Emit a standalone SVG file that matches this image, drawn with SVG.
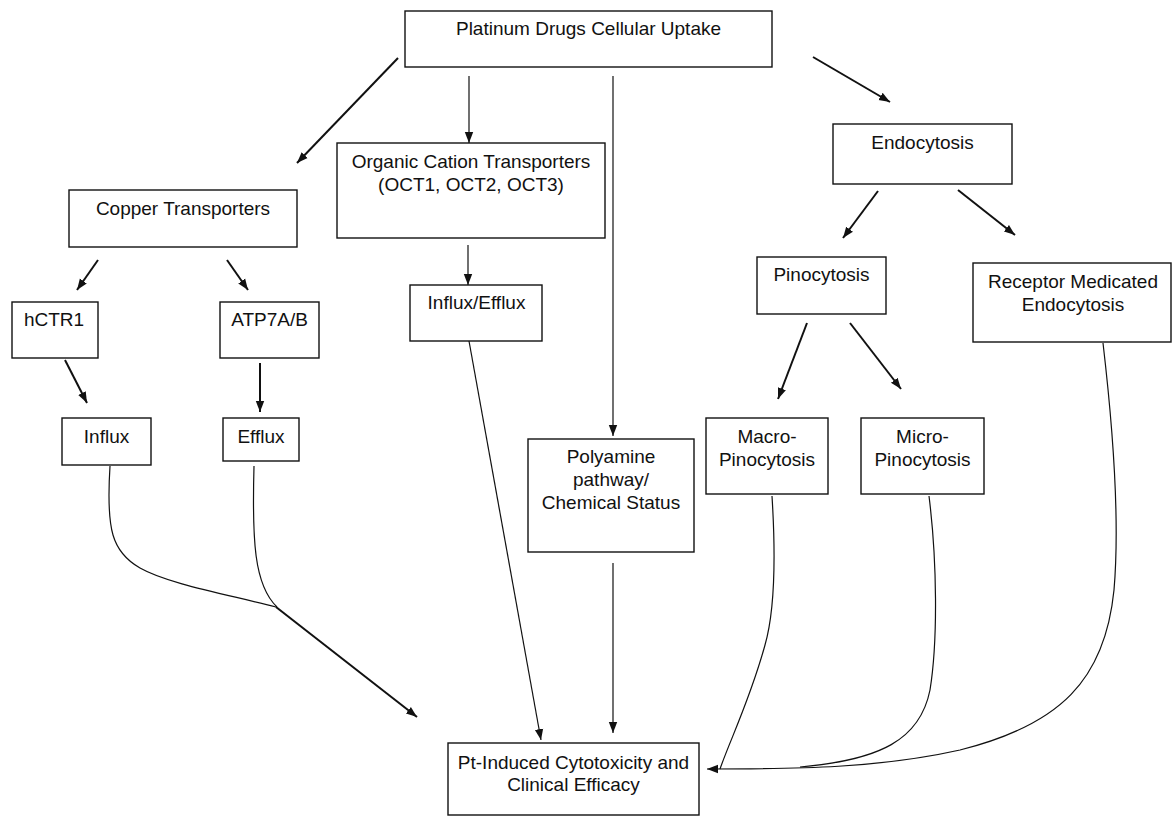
<svg xmlns="http://www.w3.org/2000/svg" width="1172" height="816" viewBox="0 0 1172 816">
<style>
  .box { fill: #ffffff; stroke: #111111; stroke-width: 1.4; }
  .lbl { font-family: "Liberation Sans", Arial, sans-serif; font-size: 19px; fill: #111111; text-anchor: middle; }
  .thick { fill: none; stroke: #111111; stroke-width: 2; }
  .thin { fill: none; stroke: #111111; stroke-width: 1.2; }
</style>
<defs>
  <marker id="ah" markerUnits="userSpaceOnUse" markerWidth="12" markerHeight="10" viewBox="0 0 12 10" refX="11" refY="5" orient="auto">
    <path d="M0,0.8 L11,5 L0,9.2 z" fill="#111111"/>
  </marker>
</defs>
<rect width="1172" height="816" fill="#ffffff"/>

<g id="connectors">
  <path class="thick" d="M398,58 L297,163" marker-end="url(#ah)"/>
  <path class="thin" d="M469,76 L469,143" marker-end="url(#ah)"/>
  <path class="thin" d="M613,76 L613,436" marker-end="url(#ah)"/>
  <path class="thick" d="M813,57 L890,102" marker-end="url(#ah)"/>
  <path class="thick" d="M98,260 L77,290" marker-end="url(#ah)"/>
  <path class="thick" d="M227,260 L248,290" marker-end="url(#ah)"/>
  <path class="thick" d="M65,360 L87,403" marker-end="url(#ah)"/>
  <path class="thick" d="M260,363 L260,412" marker-end="url(#ah)"/>
  <path class="thin" d="M468,245 L468,285" marker-end="url(#ah)"/>
  <path class="thin" d="M469,341 L541,740" marker-end="url(#ah)"/>
  <path class="thin" d="M613,563 L613,733" marker-end="url(#ah)"/>
  <path class="thick" d="M878,191 L843,238" marker-end="url(#ah)"/>
  <path class="thick" d="M958,190 L1015,235" marker-end="url(#ah)"/>
  <path class="thick" d="M807,323 L778,399" marker-end="url(#ah)"/>
  <path class="thick" d="M850,323 L901,389" marker-end="url(#ah)"/>
  <!-- left merge -->
  <path class="thin" d="M110,466 C106,530 112,552 140,568 S230,595 276,607"/>
  <path class="thin" d="M254,466 C252,540 254,585 277,607"/>
  <path class="thick" d="M276,607 L417,717" marker-end="url(#ah)"/>
  <!-- right merge -->
  <path class="thin" d="M1103,343 C1112,420 1120,520 1114,590 C1105,680 1060,725 960,750 C880,768 800,769 707,769" marker-end="url(#ah)"/>
  <path class="thin" d="M929,496 C937,560 938,640 930,690 C920,740 880,760 800,767"/>
  <path class="thin" d="M772,496 C776,560 775,610 765,645 C750,700 730,740 720,769"/>
</g>

<g id="node-uptake">
  <rect class="box" x="405" y="11" width="367" height="56"/>
  <text class="lbl" x="588.5" y="35">Platinum Drugs Cellular Uptake</text>
</g>
<g id="node-copper">
  <rect class="box" x="69" y="190" width="228" height="57"/>
  <text class="lbl" x="183" y="215">Copper Transporters</text>
</g>
<g id="node-oct">
  <rect class="box" x="337" y="143" width="268" height="95"/>
  <text class="lbl" x="471" y="168">Organic Cation Transporters</text>
  <text class="lbl" x="471" y="191">(OCT1, OCT2, OCT3)</text>
</g>
<g id="node-endocytosis">
  <rect class="box" x="833" y="124" width="179" height="60"/>
  <text class="lbl" x="922.5" y="149">Endocytosis</text>
</g>
<g id="node-hctr1">
  <rect class="box" x="12" y="302" width="86" height="56"/>
  <text class="lbl" x="54" y="326">hCTR1</text>
</g>
<g id="node-atp7">
  <rect class="box" x="220" y="302" width="99" height="56"/>
  <text class="lbl" x="269.5" y="326">ATP7A/B</text>
</g>
<g id="node-influx-efflux">
  <rect class="box" x="410" y="285" width="132" height="56"/>
  <text class="lbl" x="476.5" y="309">Influx/Efflux</text>
</g>
<g id="node-pinocytosis">
  <rect class="box" x="757" y="257" width="129" height="57"/>
  <text class="lbl" x="821.5" y="281">Pinocytosis</text>
</g>
<g id="node-receptor">
  <rect class="box" x="973" y="263" width="198" height="79"/>
  <text class="lbl" x="1073" y="288">Receptor Medicated</text>
  <text class="lbl" x="1073" y="311">Endocytosis</text>
</g>
<g id="node-influx">
  <rect class="box" x="62" y="418" width="89" height="47"/>
  <text class="lbl" x="106.5" y="443">Influx</text>
</g>
<g id="node-efflux">
  <rect class="box" x="223" y="418" width="76" height="43"/>
  <text class="lbl" x="261" y="443">Efflux</text>
</g>
<g id="node-polyamine">
  <rect class="box" x="528" y="439" width="166" height="113"/>
  <text class="lbl" x="611" y="463">Polyamine</text>
  <text class="lbl" x="611" y="486">pathway/</text>
  <text class="lbl" x="611" y="509">Chemical Status</text>
</g>
<g id="node-macro">
  <rect class="box" x="706" y="418" width="122" height="76"/>
  <text class="lbl" x="767" y="443">Macro-</text>
  <text class="lbl" x="767" y="466">Pinocytosis</text>
</g>
<g id="node-micro">
  <rect class="box" x="861" y="418" width="123" height="76"/>
  <text class="lbl" x="922.5" y="443">Micro-</text>
  <text class="lbl" x="922.5" y="466">Pinocytosis</text>
</g>
<g id="node-pt">
  <rect class="box" x="448" y="743" width="251" height="72"/>
  <text class="lbl" x="573.5" y="769">Pt-Induced Cytotoxicity and</text>
  <text class="lbl" x="573.5" y="791">Clinical Efficacy</text>
</g>
</svg>
